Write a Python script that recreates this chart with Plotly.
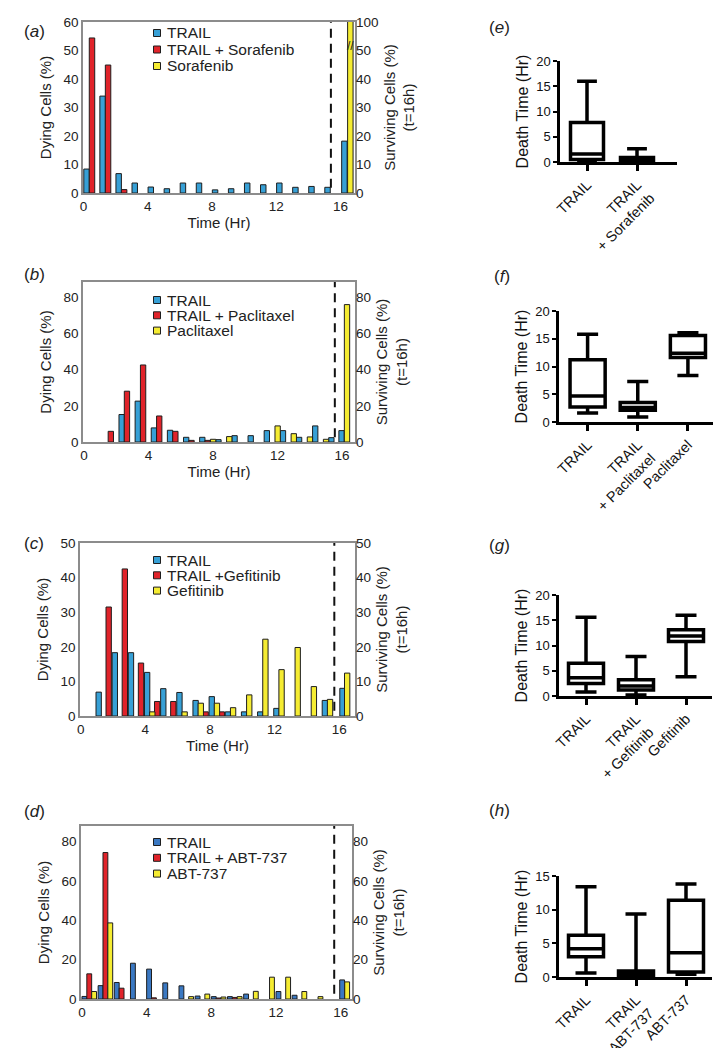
import plotly.graph_objects as go

W, H = 728, 1048
FONT = "Liberation Sans, Arial, sans-serif"

hours = list(range(16))

# (a) TRAIL / TRAIL + Sorafenib / Sorafenib, dying cells per hour bin (%)
a_trail = [8.4, 34.0, 6.8, 3.5, 2.1, 1.5, 3.5, 3.5, 1.1, 1.5, 3.5, 2.9, 3.5, 2.0, 2.3, 2.0]
a_combo = [54.4, 44.9, 1.2, 0, 0, 0, 0, 0, 0, 0, 0, 0, 0, 0, 0, 0]
a_drug = [0, 0, 0, 0, 0, 0, 0, 0, 0, 0, 0, 0, 0, 0, 0, 0]
a_surv = [18.2, 0, 100]

# (b) Paclitaxel
b_trail = [0, 0, 15.2, 22.6, 7.8, 6.5, 2.6, 2.6, 1.3, 3.5, 3.5, 6.3, 6.3, 2.6, 8.9, 2.4]
b_combo = [0, 5.9, 28.1, 42.6, 14.4, 5.9, 0.9, 0.9, 0, 0, 0, 0, 0, 0, 0, 0]
b_drug = [0, 0, 0, 0, 0, 0, 0, 0, 1.5, 3.0, 0, 0, 8.9, 4.6, 2.8, 1.5]
b_surv = [6.3, 0, 76]

# (c) Gefitinib (bins 1..16)
c_hours = list(range(1, 17))
c_trail = [6.9, 18.3, 18.3, 12.6, 7.9, 6.8, 4.5, 5.6, 1.2, 1.2, 1.2, 2.2, 0, 0, 4.5, 0]
c_combo = [0, 31.5, 42.5, 15.3, 4.2, 4.2, 0, 1.2, 1.2, 0, 0, 0, 0, 0, 0, 0]
c_drug = [0, 0, 0, 0, 1.2, 0, 1.2, 3.7, 3.7, 2.4, 6.1, 22.2, 13.4, 19.8, 8.5, 4.8]
c_surv = [8.0, 0, 12.4]

# (d) ABT-737
d_trail = [1.3, 6.8, 8.4, 18.2, 15.2, 8.2, 6.7, 1.5, 1.2, 1.2, 2.5, 0, 3.8, 1.9, 0, 0]
d_combo = [12.8, 74.5, 5.5, 0, 0.6, 0, 0, 0, 0.5, 0.8, 0, 0, 0, 0, 0, 0]
d_drug = [3.8, 38.7, 0, 0, 0, 0, 1.2, 2.5, 1.0, 1.2, 3.9, 11.1, 11.1, 3.8, 1.2, 0]
d_surv = [9.7, 0, 8.7]

# box plots: death time (Hr)
e_groups = ["TRAIL", "TRAIL<br>+ Sorafenib"]
e_q1 = [0.5, 0.2]
e_med = [1.6, 0.5]
e_q3 = [7.8, 0.9]
e_lo = [0.0, 0.0]
e_hi = [16.0, 2.6]

f_groups = ["TRAIL", "TRAIL<br>+ Paclitaxel", "Paclitaxel"]
f_q1 = [2.7, 2.1, 11.6]
f_med = [4.7, 2.6, 12.4]
f_q3 = [11.2, 3.5, 15.6]
f_lo = [1.6, 0.9, 8.4]
f_hi = [15.8, 7.3, 16.1]

g_groups = ["TRAIL", "TRAIL<br>+ Gefitinib", "Gefitinib"]
g_q1 = [2.5, 1.2, 10.8]
g_med = [3.6, 2.0, 11.9]
g_q3 = [6.5, 3.2, 13.1]
g_lo = [0.8, 0.2, 3.8]
g_hi = [15.6, 7.8, 16.0]

h_groups = ["TRAIL", "TRAIL<br>+ ABT-737", "ABT-737"]
h_q1 = [3.0, 0.2, 0.75]
h_med = [4.2, 0.5, 3.6]
h_q3 = [6.2, 0.9, 11.4]
h_lo = [0.6, 0.0, 0.4]
h_hi = [13.4, 9.35, 13.8]


def xd(l, r):
    return [l / W, r / W]


def yd(t, b):
    return [1 - b / H, 1 - t / H]


def nz(v):
    return [x if x else None for x in v]


RED = "#e0232a"
YEL = "#f5ec32"
BLUE_L = "#37a0d6"
BLUE_D = "#3a78c2"
EDGE = "#1e1e1e"

bar_panels = [
    dict(label="a", drug="Sorafenib", combo="TRAIL + Sorafenib", x=hours,
         trail=a_trail, comb=a_combo, dr=a_drug, surv=a_surv, blue=BLUE_L,
         offs=(0.02, 0.36, 0.70), w=0.34, soffs=(0.07, 0.41, 0.44),
         dom_x=(83, 355), dom_y=(22, 193), xr=[-0.03, 16.9], yr=[0, 60],
         yt=[0, 10, 20, 30, 40, 50, 60], y2t=[0, 10, 20, 30, 40, 50, 60],
         y2txt=["0", "10", "20", "30", "40", "50", "100"], dash=15.4, leg=(157, 33, 16.5), xtitle=True,
         lab_y=20),
    dict(label="b", drug="Paclitaxel", combo="TRAIL + Paclitaxel", x=hours,
         trail=b_trail, comb=b_combo, dr=b_drug, surv=b_surv, blue=BLUE_L,
         offs=(0.17, 0.50, -0.16), w=0.33, soffs=(-0.2, 0.14, 0.14),
         dom_x=(83, 355), dom_y=(282, 442), xr=[-0.06, 16.8], yr=[0, 88.5],
         yt=[0, 20, 40, 60, 80], y2t=[0, 20, 40, 60, 80], y2txt=None, dash=15.55, leg=(157, 300, 15.3),
         xtitle=True, lab_y=263),
    dict(label="c", drug="Gefitinib", combo="TRAIL +Gefitinib", x=c_hours,
         trail=c_trail, comb=c_combo, dr=c_drug, surv=c_surv, blue=BLUE_L,
         offs=(-0.05, -0.43, -0.73), w=0.33, soffs=(0.04, 0.33, 0.33),
         dom_x=(80, 355), dom_y=(543, 716), xr=[-0.04, 16.98], yr=[0, 50],
         yt=[0, 10, 20, 30, 40, 50], y2t=[0, 10, 20, 30, 40, 50], y2txt=None, dash=15.7, leg=(157, 560, 15.3),
         xtitle=True, lab_y=543),
    dict(label="d", drug="ABT-737", combo="TRAIL + ABT-737", x=hours,
         trail=d_trail, comb=d_combo, dr=d_drug, surv=d_surv, blue=BLUE_D,
         offs=(0.0, 0.30, 0.60), w=0.3, soffs=(-0.06, 0.25, 0.25),
         dom_x=(81, 352), dom_y=(826, 999), xr=[-0.06, 16.7], yr=[0, 88],
         yt=[0, 20, 40, 60, 80], y2t=[0, 20, 40, 60, 80], y2txt=None, dash=15.6, leg=(157, 842, 15.8),
         xtitle=False, lab_y=823),
]

box_panels = [
    dict(label="e", g=e_groups, q1=e_q1, med=e_med, q3=e_q3, lo=e_lo, hi=e_hi,
         dom_x=(560, 677), dom_y=(61, 162), xr=[-0.54, 1.8], yr=[0, 20], yt=[0, 5, 10, 15, 20], w=0.66, lab=(512, 16)),
    dict(label="f", g=f_groups, q1=f_q1, med=f_med, q3=f_q3, lo=f_lo, hi=f_hi,
         dom_x=(559, 713), dom_y=(311, 422), xr=[-0.57, 2.5], yr=[0, 20], yt=[0, 5, 10, 15, 20], w=0.7, lab=(512, 265)),
    dict(label="g", g=g_groups, q1=g_q1, med=g_med, q3=g_q3, lo=g_lo, hi=g_hi,
         dom_x=(559, 712), dom_y=(595, 696), xr=[-0.54, 2.52], yr=[0, 20], yt=[0, 5, 10, 15, 20], w=0.7, lab=(512, 545)),
    dict(label="h", g=h_groups, q1=h_q1, med=h_med, q3=h_q3, lo=h_lo, hi=h_hi,
         dom_x=(559, 712), dom_y=(876, 977), xr=[-0.54, 2.52], yr=[0, 15], yt=[0, 5, 10, 15], w=0.7, lab=(512, 822)),
]

fig = go.Figure()
layout = {}
annotations = []
shapes = []


def ax_key(kind, n):
    return kind + "axis" + ("" if n == 1 else str(n))


def ax_ref(kind, n):
    return kind + ("" if n == 1 else str(n))


for i, p in enumerate(bar_panels):
    xn, yl, yr2 = i + 1, 2 * i + 1, 2 * i + 2
    xr_, yl_ref, yr_ref = ax_ref("x", xn), ax_ref("y", yl), ax_ref("y", yr2)

    series = [("TRAIL", p["trail"], p["blue"], 0), (p["combo"], p["comb"], RED, 1), (p["drug"], p["dr"], YEL, 2)]
    for name, vals, col, k in series:
        fig.add_trace(go.Bar(x=p["x"], y=nz(vals), offset=p["offs"][k], width=p["w"],
                             marker=dict(color=col, line=dict(color=EDGE, width=1)),
                             xaxis=xr_, yaxis=yl_ref, showlegend=False, name=name))
        fig.add_trace(go.Bar(x=[16], y=nz([p["surv"][k]]), offset=p["soffs"][k], width=p["w"],
                             marker=dict(color=col, line=dict(color=EDGE, width=1)),
                             xaxis=xr_, yaxis=yr_ref, showlegend=False, name=name))
        # small legend key: square + label
        lx, ly0, step = p["leg"]
        ly = ly0 + k * step
        shapes.append(dict(type="rect", xref="paper", yref="paper",
                           x0=(lx - 3.5) / W, x1=(lx + 3.5) / W, y0=1 - (ly + 3.5) / H, y1=1 - (ly - 3.5) / H,
                           fillcolor=col, line=dict(color=EDGE, width=1)))
        annotations.append(dict(x=(lx + 8) / W, y=1 - ly / H, xref="paper", yref="paper", text=name,
                                showarrow=False, xanchor="left", yanchor="middle",
                                font=dict(size=15.5, color="#222")))

    layout[ax_key("x", xn)] = dict(domain=xd(*p["dom_x"]), anchor=yl_ref, range=p["xr"],
                                   tickvals=[0, 4, 8, 12, 16], showline=True, mirror=True, automargin=False,
                                   linecolor="#8c8c8c", linewidth=1.5, ticks="", showgrid=False, zeroline=False,
                                   tickfont=dict(size=13.5, color="#222"),
                                   title=dict(text="Time (Hr)" if p["xtitle"] else "", font=dict(size=15, color="#222"),
                                              standoff=4))
    layout[ax_key("y", yl)] = dict(domain=yd(*p["dom_y"]), anchor=xr_, range=p["yr"], tickvals=p["yt"],
                                   showline=True, mirror=True, linecolor="#8c8c8c", linewidth=1.5, automargin=False,
                                   ticks="", showgrid=False, zeroline=False, tickfont=dict(size=13.5, color="#222"),
                                   title=dict(text="Dying Cells (%)", font=dict(size=15, color="#222"), standoff=8))
    y2 = dict(overlaying=yl_ref, side="right", anchor=xr_, range=p["yr"], tickvals=p["y2t"], automargin=False,
              showline=False, ticks="", showgrid=False, zeroline=False, tickfont=dict(size=13.5, color="#222"),
              title=dict(text="Surviving Cells (%)<br>(t=16h)", font=dict(size=15, color="#222"), standoff=6))
    if p["y2txt"]:
        y2["ticktext"] = p["y2txt"]
    layout[ax_key("y", yr2)] = y2

    shapes.append(dict(type="line", xref=xr_, yref=yl_ref + " domain", x0=p["dash"], x1=p["dash"], y0=0.03, y1=1,
                       line=dict(color="#111", width=2, dash="9px,6px")))
    annotations.append(dict(x=22 / W, y=1 - p["lab_y"] / H, xref="paper", yref="paper",
                            text="(<i>%s</i>)" % p["label"], showarrow=False, font=dict(size=17, color="#222")))

# axis break mark on panel (a) right axis
annotations.append(dict(x=350 / W, y=1 - 37 / H, xref="paper", yref="paper", text="//", showarrow=False,
                        font=dict(size=12, color="#222")))

for j, p in enumerate(box_panels):
    xn, yn = 5 + j, 9 + j
    xr_, yr_ = ax_ref("x", xn), ax_ref("y", yn)
    fig.add_trace(go.Box(x=p["g"], q1=p["q1"], median=p["med"], q3=p["q3"], lowerfence=p["lo"],
                         upperfence=p["hi"], fillcolor="white", line=dict(color="black", width=3.5),
                         whiskerwidth=0.6, width=p["w"], boxpoints=False, showlegend=False,
                         xaxis=xr_, yaxis=yr_))
    layout[ax_key("x", xn)] = dict(domain=xd(*p["dom_x"]), anchor=yr_, type="category", range=p["xr"],
                                   showline=True, linecolor="black", linewidth=2.5, ticks="outside", automargin=False,
                                   ticklen=6, tickwidth=2.5, tickcolor="black", tickangle=-45,
                                   showgrid=False, zeroline=False, tickfont=dict(size=14.5, color="#111"))
    layout[ax_key("y", yn)] = dict(domain=yd(*p["dom_y"]), anchor=xr_, range=p["yr"], tickvals=p["yt"],
                                   showline=True, linecolor="black", linewidth=2.5, ticks="outside", automargin=False,
                                   ticklen=4, tickwidth=2, tickcolor="black", showgrid=False, zeroline=False,
                                   tickfont=dict(size=13, color="#111"),
                                   title=dict(text="Death Time (Hr)", font=dict(size=16, color="#111"), standoff=4))
    annotations.append(dict(x=p["lab"][0] / W, y=1 - p["lab"][1] / H, xref="paper", yref="paper",
                            text="(<i>%s</i>)" % p["label"], showarrow=False, font=dict(size=17, color="#222")))

fig.update_layout(**layout)
fig.update_layout(
    width=W, height=H,
    margin=dict(l=0, r=0, t=0, b=0, autoexpand=False),
    paper_bgcolor="white", plot_bgcolor="white",
    barmode="overlay",
    showlegend=False,
    font=dict(family=FONT, color="#222"),
    annotations=annotations,
    shapes=shapes,
)

fig.write_html("out.html", config={"displayModeBar": False},
               post_script="document.body.style.margin='0px';")
